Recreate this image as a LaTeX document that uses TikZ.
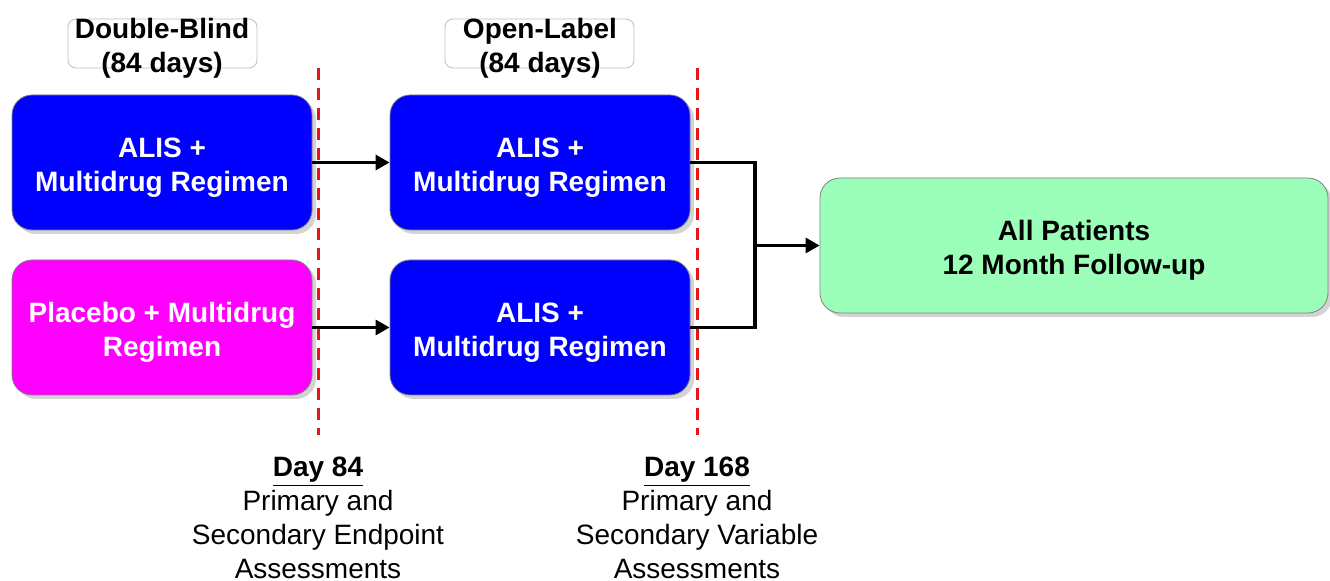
\documentclass[tikz,border=0pt]{standalone}
\usepackage{fontspec}
\setmainfont{Liberation Sans}
\usetikzlibrary{shadows, arrows.meta}
\definecolor{armblue}{RGB}{0,0,255}
\definecolor{armpink}{RGB}{255,0,255}
\definecolor{fupgreen}{RGB}{156,255,185}
\definecolor{dashred}{RGB}{230,20,20}
\tikzset{
    armbox/.style={rectangle, rounded corners=10pt, draw=black!50, line width=0.4pt,
        minimum width=150pt, minimum height=67.5pt, align=center, text=white,
        font=\fontsize{14}{17}\selectfont\bfseries, text height=32pt,
        drop shadow={shadow xshift=2pt, shadow yshift=-2pt, opacity=0.35}},
    phasebox/.style={rectangle, rounded corners=4pt, draw=black!25, fill=white,
        minimum width=94.5pt, minimum height=24.5pt},
    phasetext/.style={align=center, font=\fontsize{14}{17}\selectfont\bfseries},
    daytext/.style={align=center, inner sep=0pt, anchor=north, font=\fontsize{14}{17}\selectfont},
    cut/.style={dashred, line width=1.5pt, dash pattern=on 6pt off 4pt},
    flow/.style={line width=1.6pt, >={Triangle[length=7pt,width=7.5pt]}}
}
\begin{document}
\begin{tikzpicture}[x=0.5pt, y=-0.5pt]
    \useasboundingbox (0,0) rectangle (1330,581);
    % phase headers
    \node [phasebox] (dbbox) at (162.5,43.5) {};
    \node [phasetext] (dbtext) at (162,48) {Double-Blind\\(84 days)};
    \node [phasebox] (olbox) at (539.5,43.5) {};
    \node [phasetext] (oltext) at (540,48) {Open-Label\\(84 days)};
    % treatment arms
    \node [armbox, fill=armblue] (alisA) at (162,162.5) {ALIS +\\Multidrug Regimen};
    \node [armbox, fill=armpink] (placebo) at (162,327.5) {Placebo + Multidrug\\Regimen};
    \node [armbox, fill=armblue] (alisB) at (540,162.5) {ALIS +\\Multidrug Regimen};
    \node [armbox, fill=armblue] (alisC) at (540,327.5) {ALIS +\\Multidrug Regimen};
    \node [armbox, fill=fupgreen, text=black, minimum width=254pt] (follow) at (1074,245.5) {All Patients\\12 Month Follow-up};
    % day cut-offs
    \draw [cut] (318,68) -- (318,435);
    \draw [cut] (697,68) -- (697,435);
    % arrows
    \draw [flow, ->] (alisA) -- (alisB);
    \draw [flow, ->] (placebo) -- (alisC);
    \coordinate (join) at (755,245.5);
    \draw [flow] (alisB.east) -| (join) |- (alisC.east);
    \draw [flow, ->] (join) -- (follow.west);
    % assessments
    \node [daytext] (day84) at (318,457) {\textbf{\underline{Day 84}}\\Primary and\\Secondary Endpoint\\Assessments};
    \node [daytext] (day168) at (697,457) {\textbf{\underline{Day 168}}\\Primary and\\Secondary Variable\\Assessments};
\end{tikzpicture}
\end{document}
